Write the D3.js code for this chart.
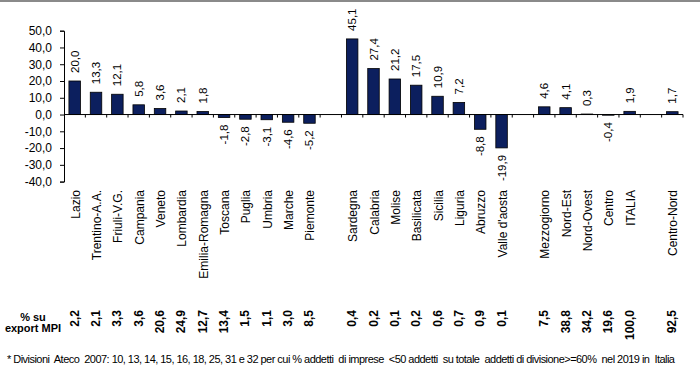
<!DOCTYPE html>
<html><head><meta charset="utf-8">
<script src="https://cdn.jsdelivr.net/npm/d3@7"></script>
<style>body{margin:0;background:#fff}svg{display:block;font-family:Arial,"Liberation Sans",sans-serif}</style>
</head><body><svg id="c" width="700" height="368"></svg>
<script>
const categories = ["Lazio","Trentino-A.A.","Friuli-V.G.","Campania","Veneto","Lombardia","Emilia-Romagna","Toscana","Puglia","Umbria","Marche","Piemonte","Sardegna","Calabria","Molise","Basilicata","Sicilia","Liguria","Abruzzo","Valle d'aosta","Mezzogiorno","Nord-Est","Nord-Ovest","Centro","ITALIA","Centro-Nord"];
const values = [20.0,13.3,12.1,5.8,3.6,2.1,1.8,-1.8,-2.8,-3.1,-4.6,-5.2,45.1,27.4,21.2,17.5,10.9,7.2,-8.8,-19.9,4.6,4.1,0.3,-0.4,1.9,1.7];
const exportShare = ["2,2","2,1","3,3","3,6","20,6","24,9","12,7","13,4","1,5","1,1","3,0","8,5","0,4","0,2","0,1","0,2","0,6","0,7","0,9","0,1","7,5","38,8","34,2","19,6","100,0","92,5"];
const gapAfter = ["Piemonte","Valle d'aosta","ITALIA"];
const yTicks = [50,40,30,20,10,0,-10,-20,-30,-40];
const rowLabel = ["% su","export MPI"];
const footnote = "* Divisioni  Ateco  2007: 10, 13, 14, 15, 16, 18, 25, 31 e 32 per cui % addetti  di imprese  <50 addetti  su totale  addetti di divisione>=60%  nel 2019 in  Italia";

const fmt = v => d3.format(".1f")(v).replace(".", ",").replace("−","-");
const svg = d3.select("#c");

// top border
svg.append("rect").attr("x",0).attr("y",0).attr("width",700).attr("height",2).attr("fill","#8a8a8a");

const slots = [];
categories.forEach((c,i)=>{ slots.push(c); if(gapAfter.includes(c)) slots.push("__gap"+i); });
const x = d3.scaleBand().domain(slots).range([64,683]).padding(0);
const y = d3.scaleLinear().domain([-40,50]).range([181.6,30.7]);
const bw = 11.5;
const data = categories.map((c,i)=>({c, v:values[i], s:exportShare[i]}));

// y axis
const ya = svg.append("g").attr("transform","translate(64,0)")
  .call(d3.axisLeft(y).tickValues(yTicks).tickSize(4).tickFormat(fmt));
ya.select(".domain").attr("stroke","#000");
ya.selectAll("text").attr("font-size",12).attr("font-family","Arial").attr("fill","#000").attr("x",-12);
ya.selectAll("line").attr("stroke","#000");

// bars
svg.append("g").selectAll("rect").data(data).join("rect")
  .attr("x",d=>x(d.c)+x.bandwidth()/2-bw/2)
  .attr("y",d=>y(Math.max(0,d.v)))
  .attr("width",bw)
  .attr("height",d=>Math.abs(y(d.v)-y(0)))
  .attr("fill","#0c1f5e").attr("stroke","#000").attr("stroke-width",0.8);

// x axis line and ticks
const y0 = y(0);
svg.append("line").attr("x1",64).attr("x2",683).attr("y1",y0).attr("y2",y0).attr("stroke","#000");
const bounds = slots.map(s=>x(s)).slice(1).concat([683]);
svg.append("g").selectAll("line").data(bounds).join("line")
  .attr("x1",d=>d).attr("x2",d=>d).attr("y1",y0).attr("y2",y0+3).attr("stroke","#000");

// value labels
svg.append("g").selectAll("text").data(data).join("text")
  .attr("transform",d=>{
    const cx = x(d.c)+x.bandwidth()/2;
    const yy = d.v>=0 ? y(d.v)-8 : y(d.v)+7;
    return `translate(${cx},${yy}) rotate(-90)`;})
  .attr("text-anchor",d=>d.v>=0?"start":"end")
  .attr("dominant-baseline","central")
  .attr("font-size",11.5).attr("fill","#000")
  .text(d=>fmt(d.v));

// category labels
svg.append("g").selectAll("text").data(data).join("text")
  .attr("transform",d=>`translate(${x(d.c)+x.bandwidth()/2+1},190) rotate(-90)`)
  .attr("text-anchor","end").attr("dominant-baseline","central")
  .attr("font-size",12).attr("fill","#000").text(d=>d.c);

// export share row
svg.append("g").selectAll("text").data(rowLabel).join("text")
  .attr("x",33).attr("y",(d,i)=>321+i*11).attr("text-anchor","middle")
  .attr("font-size",11).attr("font-weight","bold").attr("fill","#000").text(d=>d);
svg.append("g").selectAll("text").data(data).join("text")
  .attr("transform",d=>`translate(${x(d.c)+x.bandwidth()/2},310) rotate(-90)`)
  .attr("text-anchor","end").attr("dominant-baseline","central")
  .attr("font-size",12).attr("font-weight","bold").attr("fill","#000").text(d=>d.s);

// footnote
svg.append("text").attr("x",7).attr("y",363).attr("font-size",11).attr("fill","#000")
  .attr("textLength",668).attr("lengthAdjust","spacing").style("white-space","pre").text(footnote);
</script></body></html>
